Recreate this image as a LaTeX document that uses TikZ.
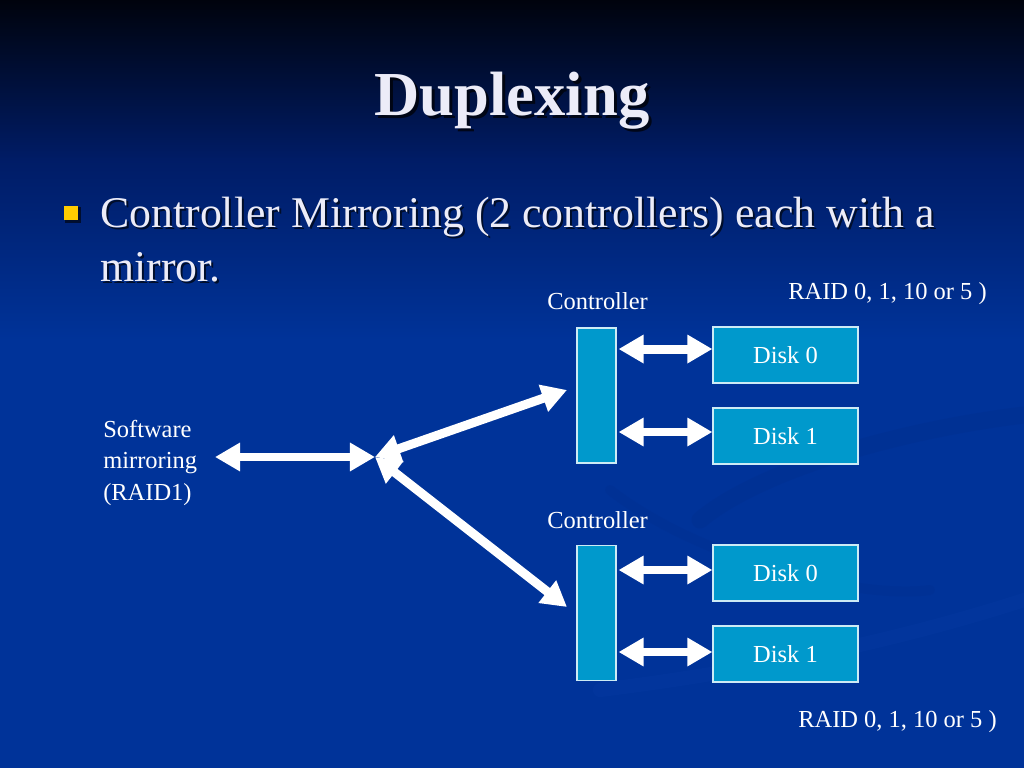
\documentclass[tikz,border=0pt]{standalone}
\usepackage{fontspec}
\setmainfont{Liberation Serif}
\usetikzlibrary{arrows.meta,calc}
\definecolor{bgblue}{HTML}{003399}
\definecolor{bgmid}{HTML}{001C66}
\definecolor{bgtop}{HTML}{00030D}
\definecolor{boxfill}{HTML}{0099CC}
\definecolor{titlecol}{HTML}{ECECF8}
\definecolor{bullety}{HTML}{FFCC00}
\definecolor{swirldark}{HTML}{002A85}
\definecolor{swirllight}{HTML}{0A3FA8}
\begin{document}
\begin{tikzpicture}[x=0.703125pt,y=-0.703125pt,
  lbl/.style={text=white,font=\fontsize{17.2}{20}\selectfont,inner sep=0pt},
  ctrlbox/.style={draw=white!80!boxfill,fill=boxfill,line width=0.8pt,inner sep=0pt,
    minimum width=27.4pt,minimum height=95pt},
  diskbox/.style={draw=white!80!boxfill,fill=boxfill,line width=0.8pt,inner sep=0pt,
    minimum width=102pt,minimum height=39.4pt,text=white,font=\fontsize{17.2}{20}\selectfont},
  dbl/.style={draw=white,line width=6.3pt,
    arrows={Triangle[length=17.6pt,width=19pt]-Triangle[length=17.6pt,width=19pt]}},
  bigtext/.style={text=titlecol,font=\fontsize{30.8}{36}\selectfont,inner sep=0pt,anchor=base west},
  shadowtext/.style={text=black!85!bgblue,font=\fontsize{30.8}{36}\selectfont,inner sep=0pt,anchor=base west,opacity=0.8}
]
\useasboundingbox (0,0) rectangle (1024,768);
% background
\fill[bgblue] (0,0) rectangle (1024,768);
\shade[top color=bgtop,bottom color=bgmid] (0,0) rectangle (1024,160);
\shade[top color=bgmid,bottom color=bgblue] (0,159) rectangle (1024,340);
% faint swirls
\draw[swirldark,line width=12pt,opacity=0.22,line cap=round]
  (1024,415) .. controls (900,430) and (760,470) .. (700,520);
\draw[swirllight,line width=10pt,opacity=0.2,line cap=round]
  (1024,600) .. controls (900,640) and (760,670) .. (600,690);
\draw[swirldark,line width=7pt,opacity=0.18,line cap=round]
  (610,490) .. controls (700,560) and (860,600) .. (930,590);

% title
\node[text=black,opacity=0.7,font=\bfseries\fontsize{44}{50}\selectfont,inner sep=0pt,anchor=base]
  (titleshadow) at (515,119) {Duplexing};
\node[text=titlecol,font=\bfseries\fontsize{44}{50}\selectfont,inner sep=0pt,anchor=base]
  (title) at (512,116) {Duplexing};

% bullet
\fill[black,opacity=0.6] (65,207) rectangle (81,223);
\node[fill=bullety,inner sep=0pt,minimum size=10.5pt] (bullet) at (71,213) {};
\node[shadowtext] (l1s) at (102,230) {Controller Mirroring (2 controllers) each with a};
\node[bigtext] (l1) at (100,228) {Controller Mirroring (2 controllers) each with a};
\node[shadowtext] (l2s) at (102,283) {mirror.};
\node[bigtext] (l2) at (100,281) {mirror.};

% labels
\node[lbl,anchor=base east] (raidtop) at (987,299) {RAID 0, 1, 10 or 5 )};
\node[lbl,anchor=base east] (raidbot) at (997,727) {RAID 0, 1, 10 or 5 )};
\node[lbl,anchor=base west] (ctl1) at (547,310) {Controller};
\node[lbl,anchor=base west] (ctl2) at (547,528) {Controller};
\node[lbl,anchor=base west] (sw1) at (103,437) {Software};
\node[lbl,anchor=base west] (sw2) at (103,468) {mirroring};
\node[lbl,anchor=base west] (sw3) at (103,500) {(RAID1)};

% controllers and disks
\node[ctrlbox] (c1) at (596.5,395.5) {};
\node[ctrlbox] (c2) at (596.5,613) {};
\node[diskbox] (d0) at (785.5,355) {Disk 0};
\node[diskbox] (d1) at (785.5,436) {Disk 1};
\node[diskbox] (d2) at (785.5,573) {Disk 0};
\node[diskbox] (d3) at (785.5,654) {Disk 1};

% connectors
\coordinate (j) at (375,457);
\coordinate (swend) at (215,457);
\coordinate (c1in) at (567,390);
\coordinate (c2in) at (567,607);
\coordinate (d0p) at ([yshift=4.2pt]d0.west);
\coordinate (d1p) at ([yshift=2.8pt]d1.west);
\coordinate (d2p) at ([yshift=2.1pt]d2.west);
\coordinate (d3p) at ([yshift=1.4pt]d3.west);
\draw[dbl] (swend) -- (j);
\draw[dbl] (j) -- (c1in);
\draw[dbl] (j) -- (c2in);
\draw[dbl] ([xshift=1.4pt]c1.east |- d0p) -- (d0p);
\draw[dbl] ([xshift=1.4pt]c1.east |- d1p) -- (d1p);
\draw[dbl] ([xshift=1.4pt]c2.east |- d2p) -- (d2p);
\draw[dbl] ([xshift=1.4pt]c2.east |- d3p) -- (d3p);
\end{tikzpicture}
\end{document}
